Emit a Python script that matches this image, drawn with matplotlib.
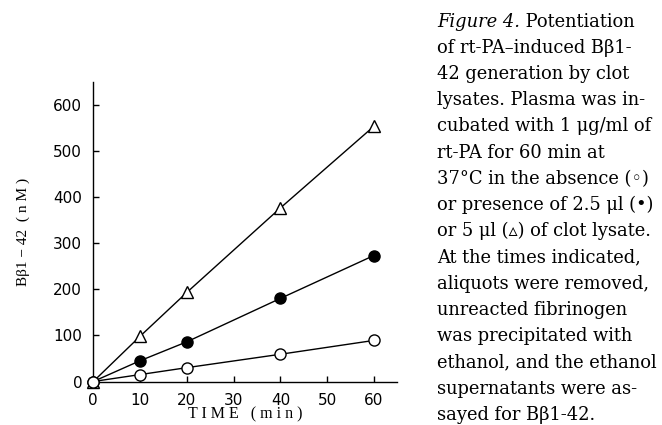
import matplotlib
matplotlib.use("Agg")
import matplotlib.pyplot as plt

# values (nM of Bbeta1-42)
time_min = [0, 10, 20, 40, 60]
no_lysate = [0, 15, 30, 59, 89]
lysate_2_5ul = [0, 45, 86, 180, 273]
lysate_5ul = [0, 98, 193, 376, 553]

x_ticks = [0, 10, 20, 30, 40, 50, 60]
y_ticks = [0, 100, 200, 300, 400, 500, 600]

caption_lines = [
    "of rt-PA\u2013induced B\u03b21-",
    "42 generation by clot",
    "lysates. Plasma was in-",
    "cubated with 1 \u03bcg/ml of",
    "rt-PA for 60 min at",
    "37\u00b0C in the absence (\u25e6)",
    "or presence of 2.5 \u03bcl (\u2022)",
    "or 5 \u03bcl (\u25b5) of clot lysate.",
    "At the times indicated,",
    "aliquots were removed,",
    "unreacted fibrinogen",
    "was precipitated with",
    "ethanol, and the ethanol",
    "supernatants were as-",
    "sayed for B\u03b21-42.",
]

W, H = 662, 425
fig = plt.figure(figsize=(W / 100, H / 100), dpi=100)
ax = fig.add_axes([93.3 / W, 1 - 381.5 / H, 304 / W, 300 / H])

line_kw = dict(color="black", linewidth=1.0, markeredgewidth=1.0, clip_on=False, zorder=3)
ax.plot(time_min, lysate_5ul, marker="^", markerfacecolor="white", markersize=9, **line_kw)
ax.plot(time_min, lysate_2_5ul, marker="o", markerfacecolor="black", markersize=8, **line_kw)
ax.plot(time_min, no_lysate, marker="o", markerfacecolor="white", markersize=8, **line_kw)

ax.set_xlim(0, 65)
ax.set_ylim(0, 650)
ax.set_xticks(x_ticks)
ax.set_yticks(y_ticks)
for s in ["top", "right"]:
    ax.spines[s].set_visible(False)
for s in ["left", "bottom"]:
    ax.spines[s].set_linewidth(1.0)
ax.tick_params(direction="in", length=4, width=1.0, pad=8, labelsize=11)
for lab in ax.get_xticklabels() + ax.get_yticklabels():
    lab.set_family("DejaVu Sans")

serif = ["Liberation Serif", "DejaVu Serif"]
ax.set_ylabel("B\u03b21 \u2212 42  ( n M )", family=serif, fontsize=11, labelpad=17)
ax.set_xlabel("T I M E   ( m i n )", family=serif, fontsize=11.5, labelpad=-1)

# caption on the right
cap_serif = ["DejaVu Serif", "DejaVu Sans"]
cap_size = 12.9
y0 = 26.7
step = 26.2
t = fig.text(437 / W, 1 - y0 / H, "Figure 4.", family=cap_serif, style="italic",
             fontsize=cap_size, va="baseline", ha="left")
ax.annotate(" Potentiation", xy=(1, 0), xycoords=t, va="bottom", ha="left",
            family=cap_serif, fontsize=cap_size, annotation_clip=False)
for i, line in enumerate(caption_lines):
    fig.text(437 / W, 1 - (y0 + (i + 1) * step) / H, line, family=cap_serif,
             fontsize=cap_size, va="baseline", ha="left")

fig.savefig("out.png", dpi=100)
